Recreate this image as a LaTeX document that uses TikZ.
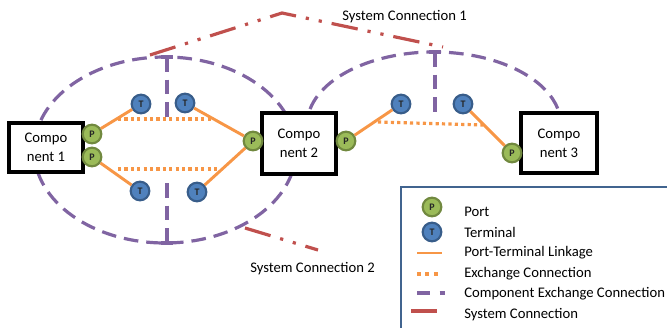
\documentclass[tikz,border=0pt]{standalone}
\usepackage{fontspec}
\setmainfont{Carlito}
\definecolor{portf}{HTML}{9BBB59}
\definecolor{portb}{HTML}{71893F}
\definecolor{termf}{HTML}{4F81BD}
\definecolor{termb}{HTML}{385D8A}
\definecolor{orng}{HTML}{F79646}
\definecolor{purp}{HTML}{8064A2}
\definecolor{redc}{HTML}{C0504D}
\definecolor{legb}{HTML}{41648F}
\begin{document}
\begin{tikzpicture}[x=0.75pt,y=-0.75pt,
 port/.style={circle, draw=portb, fill=portf, line width=1.6pt, minimum size=14pt, inner sep=0pt,
   font=\fontsize{7.5}{8}\selectfont\bfseries, text=black!85},
 term/.style={circle, draw=termb, fill=termf, line width=1.6pt, minimum size=14pt, inner sep=0pt,
   font=\fontsize{7.5}{8}\selectfont\bfseries, text=black!85},
 link/.style={draw=orng, line width=2.2pt},
 exch/.style={draw=orng, line width=2.4pt, dash pattern=on 2.4pt off 2.4pt},
 cexch/.style={draw=purp, line width=2.4pt, dash pattern=on 11pt off 6pt},
 sysc/.style={draw=redc, line width=2.4pt, dash pattern=on 20pt off 7.5pt on 2.4pt off 7.5pt on 2.4pt off 7.5pt},
 comp/.style={draw=black, line width=2.4pt, fill=white, align=center, inner sep=0pt,
   font=\fontsize{11}{14}\selectfont},
 lbl/.style={anchor=west, font=\fontsize{11}{13}\selectfont, inner sep=0pt},
]
\useasboundingbox (0,0) rectangle (667,328);
\clip (0,0) rectangle (667,328);

% component exchange connections (purple dashed)
\draw[cexch] (165,150) ellipse [x radius=131, y radius=93];
\draw[cexch] ([shift={(192.6:127 and 73)}]434,125) arc[start angle=192.6, end angle=347.4, x radius=127, y radius=73];
\coordinate (v1a) at (167,57);  \coordinate (v1b) at (167,118);
\coordinate (v2a) at (167,183); \coordinate (v2b) at (167,243);
\coordinate (v3a) at (435,52);  \coordinate (v3b) at (435,113);
\draw[cexch] (v1a) -- (v1b);
\draw[cexch] (v2a) -- (v2b);
\draw[cexch] (v3a) -- (v3b);
\draw[purp, line width=2.4pt] ([xshift=-4.5pt]v1a) -- ([xshift=4.5pt]v1a);
\draw[purp, line width=2.4pt] ([xshift=-4.5pt]v2b) -- ([xshift=4.5pt]v2b);
\draw[purp, line width=2.4pt] ([xshift=-4.5pt]v3a) -- ([xshift=4.5pt]v3a);

% system connections (red dash-dot)
\coordinate (s1a) at (150,55); \coordinate (s1b) at (282,13); \coordinate (s1c) at (443,47);
\draw[sysc] (s1a) -- (s1b) -- (s1c);
\coordinate (s2a) at (245,228); \coordinate (s2b) at (318,250);
\draw[sysc] (s2a) -- (s2b);
\node[lbl] (sc1) at (342,17) {System Connection 1};
\node[lbl] (sc2) at (250,269) {System Connection 2};

% exchange connections (orange dotted)
\coordinate (e1a) at (118,119); \coordinate (e1b) at (213,119);
\coordinate (e2a) at (118,169); \coordinate (e2b) at (220,169);
\coordinate (e3a) at (378,122); \coordinate (e3b) at (483,125);
\draw[exch] (e1a) -- (e1b);
\draw[exch] (e2a) -- (e2b);
\draw[exch] (e3a) -- (e3b);

% components
\node[comp, minimum width=55.5pt, minimum height=36.75pt] (c1) at (46,147.5) {Compo\\nent 1};
\node[comp, minimum width=55.5pt, minimum height=45.75pt] (c2) at (299,143.5) {Compo\\nent 2};
\node[comp, minimum width=57pt, minimum height=45pt] (c3) at (559,143) {Compo\\nent 3};

% ports and terminals
\node[port] (p1a) at (92,134) {P};
\node[port] (p1b) at (92,157) {P};
\node[port] (p2l) at (253,141) {P};
\node[port] (p2r) at (346,141) {P};
\node[port] (p3) at (512,153) {P};
\node[term] (t1) at (141,104) {T};
\node[term] (t2) at (185,103) {T};
\node[term] (t3) at (140,191) {T};
\node[term] (t4) at (197,192) {T};
\node[term] (t5) at (401,104) {T};
\node[term] (t6) at (463,104) {T};

% port-terminal linkages
\draw[link] (p1a) -- (t1);
\draw[link] (t2) -- (p2l);
\draw[link] (p1b) -- (t3);
\draw[link] (t4) -- (p2l);
\draw[link] (p2r) -- (t5);
\draw[link] (t6) -- (p3);

% legend
\coordinate (lg1) at (401,187); \coordinate (lg2) at (690,345);
\draw[legb, line width=1.8pt, fill=white] (lg1) rectangle (lg2);
\node[port] (lp) at (432,207) {P};
\node[term] (lt) at (432,232) {T};
\coordinate (l3a) at (417,253); \coordinate (l3b) at (442,253);
\coordinate (l4a) at (417,274); \coordinate (l4b) at (442,274);
\coordinate (l5a) at (417,293); \coordinate (l5b) at (445,293);
\coordinate (l6a) at (411,311); \coordinate (l6b) at (437,311);
\draw[link] (l3a) -- (l3b);
\draw[exch, dash pattern=on 3pt off 3.3pt] (l4a) -- (l4b);
\draw[cexch, dash pattern=on 10pt off 7pt] (l5a) -- (l5b);
\draw[redc, line width=2.4pt] (l6a) -- (l6b);
\node[lbl] (lt1) at (464,212) {Port};
\node[lbl] (lt2) at (464,232) {Terminal};
\node[lbl] (lt3) at (464,253) {Port-Terminal Linkage};
\node[lbl] (lt4) at (464,274) {Exchange Connection};
\node[lbl] (lt5) at (464,294) {Component Exchange Connection};
\node[lbl] (lt6) at (464,315) {System Connection};
\end{tikzpicture}
\end{document}
